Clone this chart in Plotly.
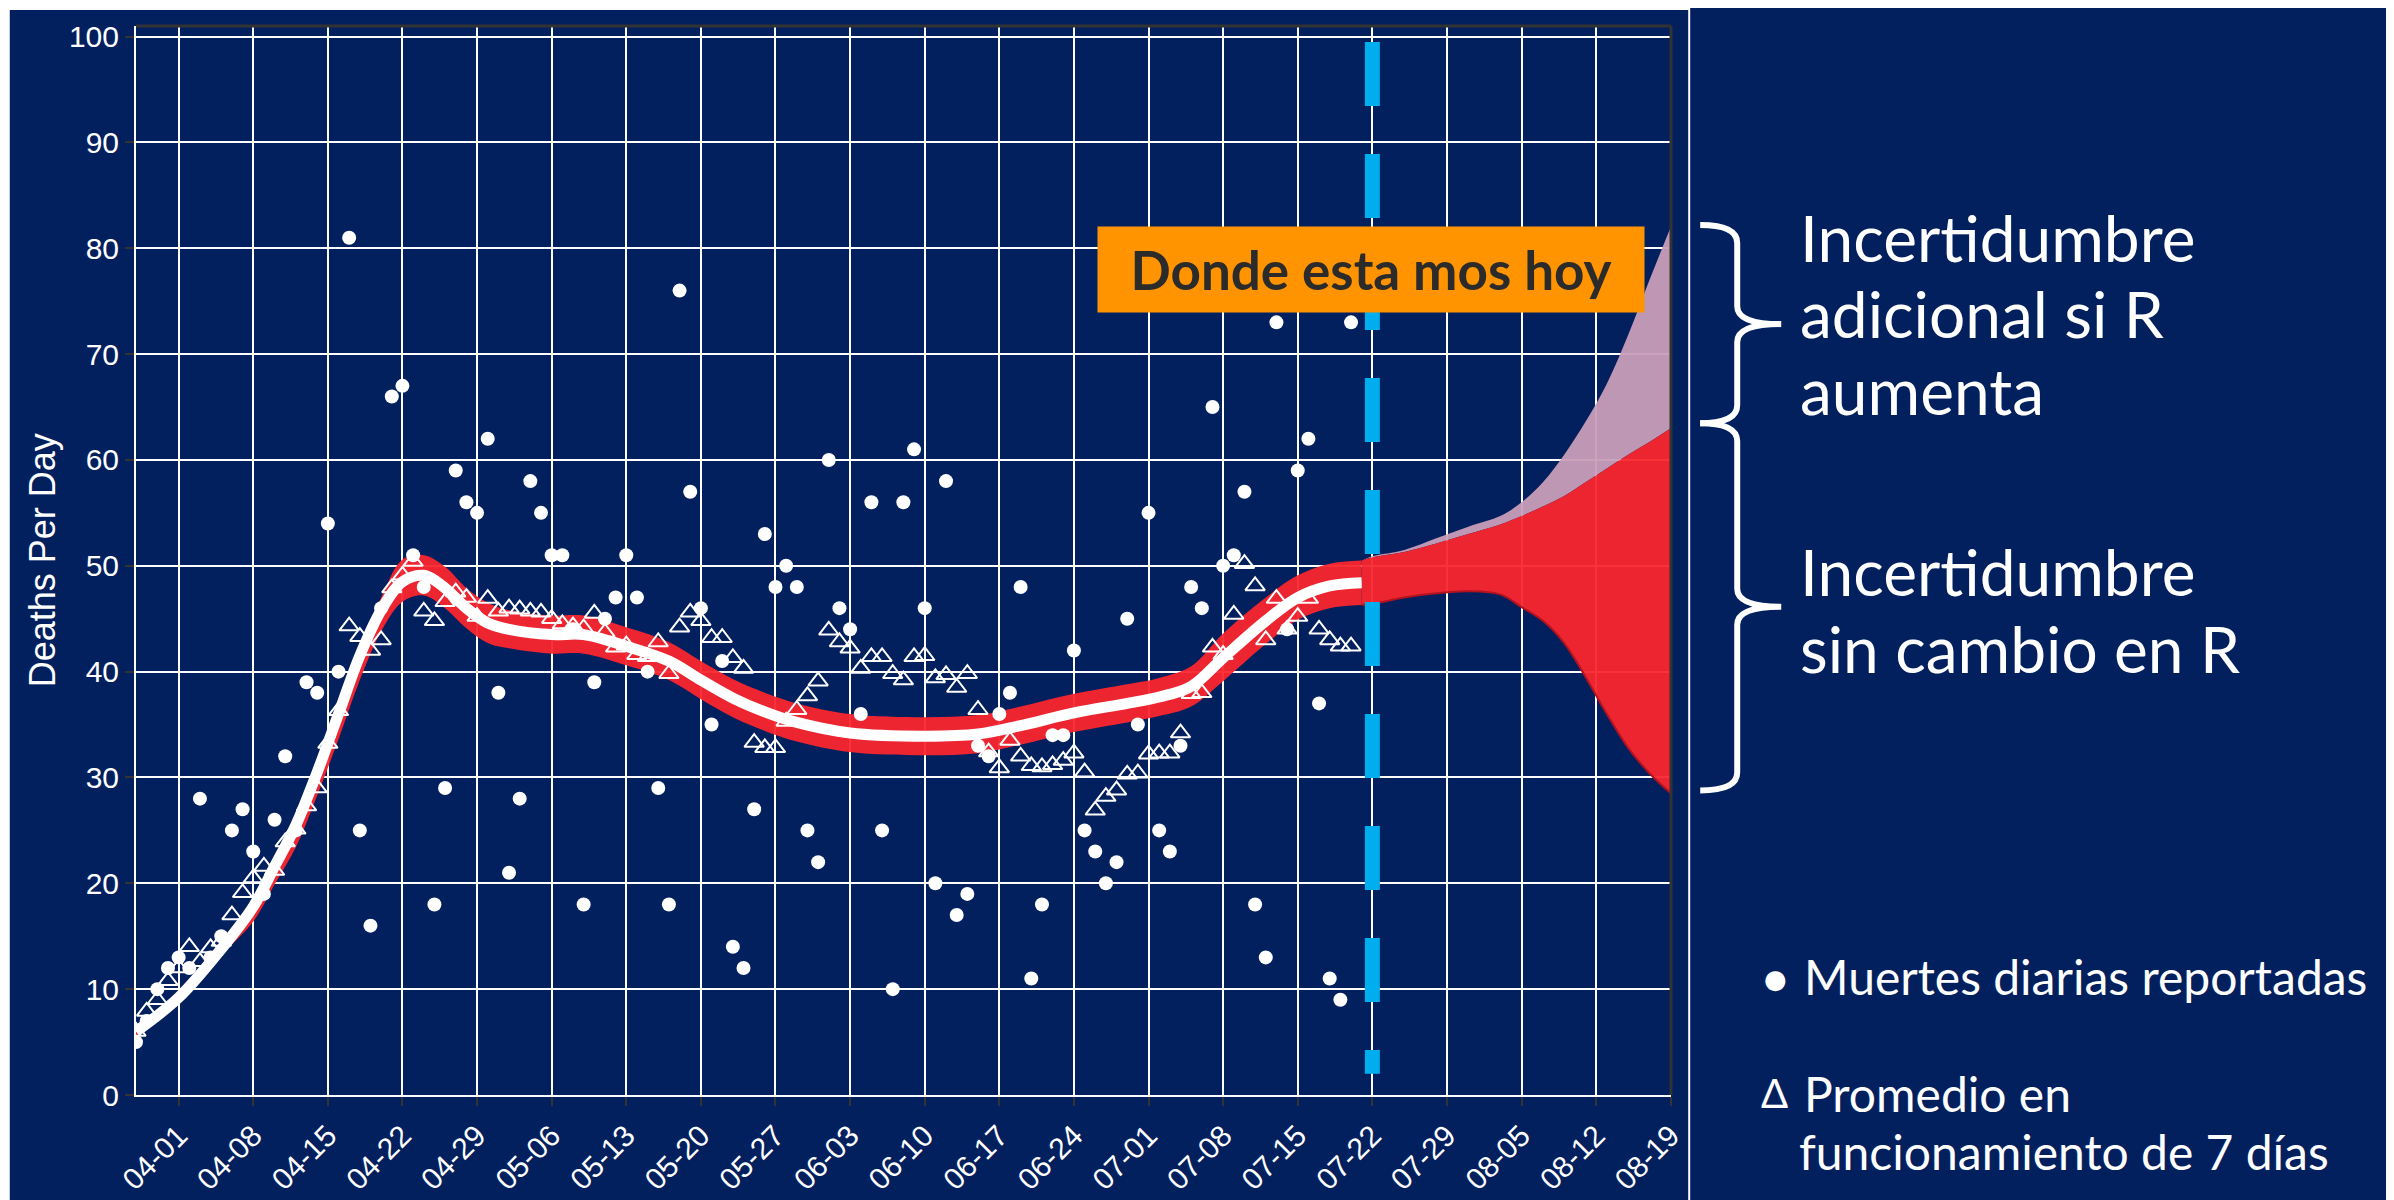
import pandas as pd
import plotly.graph_objects as go

NAVY = "#02205E"
RED = "rgba(249,38,46,0.95)"
PINK = "rgba(200,158,184,0.95)"

# daily reported deaths, one value per day from 03-28 to 07-20
obs_dates = pd.date_range("2020-03-28", "2020-07-20").strftime("%Y-%m-%d").tolist()
deaths = [5, 7, 10, 12,
          13, 12, 28, 13, 15, 25, 27, 23, 19, 26, 32, 25, 39, 38, 54, 40, 81, 25, 16, 46,
          66, 67, 51, 48, 18, 29, 59, 56, 55, 62,
          38, 21, 28, 58, 55, 51, 51, 44, 18, 39, 45, 47, 51, 47, 40, 29, 18, 76, 57, 46,
          35, 41, 14, 12, 27, 53, 48, 50, 48, 25, 22,
          60, 46, 44, 36, 56, 25, 10, 56, 61, 46, 20, 58, 17, 19, 33, 32, 36, 38, 48, 11,
          18, 34, 34, 42, 25, 23, 20, 22, 45, 35,
          55, 25, 23, 33, 48, 46, 65, 50, 51, 57, 18, 13, 73, 44, 59, 62, 37, 11, 9, 73]
# 7-day running average (triangles)
avg7 = [6.0, 7.9, 9.0, 10.8,
        12.0, 14.0, 12.6, 13.9, 14.5, 17.0, 19.1, 20.5, 21.6, 21.2, 23.9, 25.1, 27.3, 29.0,
        33.2, 36.3, 44.3, 43.3, 42.0, 43.0, 47.9, 49.1, 50.4, 45.7, 44.8, 46.6, 47.5, 47.0,
        45.2, 46.9,
        45.7, 46.0, 45.9, 45.7, 45.6, 45.0, 44.5, 44.3, 44.1, 45.5, 43.7, 42.3, 42.5, 41.6,
        41.4, 42.8, 39.8, 44.2, 45.6, 44.8, 43.2, 43.2, 41.3, 40.3, 33.3, 32.8, 32.8, 35.3,
        36.4, 37.7, 39.1,
        43.9, 42.8, 42.2, 40.3, 41.4, 41.4, 39.8, 39.2, 41.4, 41.5, 39.4, 39.7, 38.5, 39.8,
        36.4, 32.4, 30.9, 33.5, 32.0, 31.1, 31.0, 31.2, 31.6, 32.3, 30.5, 26.9, 28.2, 28.8,
        30.3, 30.4,
        32.2, 32.3, 32.3, 34.2, 37.9, 38.0, 42.3, 41.6, 45.4, 50.2, 48.1, 43.0, 46.9, 44.0,
        45.2, 46.9, 44.0, 43.0, 42.4, 42.4]

# fitted curve and its band
fit_dates = ["2020-03-28", "2020-04-01", "2020-04-05", "2020-04-08", "2020-04-10", "2020-04-12",
             "2020-04-14", "2020-04-16", "2020-04-18", "2020-04-20", "2020-04-22", "2020-04-24",
             "2020-04-26", "2020-04-28", "2020-04-30", "2020-05-02", "2020-05-06", "2020-05-09",
             "2020-05-13", "2020-05-17", "2020-05-20", "2020-05-23", "2020-05-26", "2020-05-29",
             "2020-06-03", "2020-06-10", "2020-06-15", "2020-06-19", "2020-06-24", "2020-06-29",
             "2020-07-02", "2020-07-05", "2020-07-08", "2020-07-12", "2020-07-15", "2020-07-18",
             "2020-07-21"]
fit = [6.0, 9.2, 13.8, 17.8, 21.6, 25.5, 30.5, 36.0, 41.5, 45.8, 48.5, 49.1, 47.9, 46.0, 44.6,
       44.0, 43.5, 43.5, 42.4, 41.0, 39.2, 37.5, 36.2, 35.2, 34.2, 33.9, 34.1, 34.9, 36.1, 37.0,
       37.6, 38.6, 41.3, 44.8, 47.0, 48.1, 48.4]
fit_lo = [5.6, 8.8, 13.2, 16.4, 19.9, 23.4, 28.3, 33.6, 39.2, 43.8, 46.6, 47.2, 46.0, 44.1, 42.7,
          42.2, 41.7, 41.7, 40.6, 39.2, 37.4, 35.7, 34.4, 33.4, 32.4, 32.1, 32.3, 33.1, 34.3, 35.2,
          35.8, 36.7, 39.1, 42.6, 44.9, 46.0, 46.3]
fit_hi = [6.4, 9.6, 14.3, 18.3, 22.3, 26.1, 31.1, 36.7, 42.4, 47.0, 50.6, 51.0, 49.9, 47.9, 46.5,
          45.8, 45.3, 45.3, 44.2, 42.8, 41.0, 39.3, 38.0, 37.0, 36.0, 35.7, 35.9, 36.7, 37.9, 38.8,
          39.4, 40.5, 43.6, 47.0, 49.1, 50.2, 50.5]

# projection
proj_dates = ["2020-07-21", "2020-07-22", "2020-07-25", "2020-07-28", "2020-07-31", "2020-08-03",
              "2020-08-05", "2020-08-07", "2020-08-09", "2020-08-11", "2020-08-13", "2020-08-15",
              "2020-08-17", "2020-08-19"]
proj_lo = [46.3, 46.4, 47.0, 47.4, 47.6, 47.3, 46.1, 44.8, 42.7, 39.5, 36.0, 32.8, 30.4, 28.5]
proj_hi = [50.5, 50.8, 51.3, 52.1, 53.0, 53.9, 54.7, 55.6, 56.6, 57.9, 59.2, 60.5, 61.7, 63.0]
proj_r_up = [50.5, 50.9, 51.5, 52.6, 53.7, 54.7, 56.0, 57.9, 60.5, 63.6, 67.2, 71.8, 77.0, 82.0]

today = "2020-07-22"

# pixel geometry of the plot area on the page, used to place the side texts
L, R, T, B = 136.2, 1670.8, 22.0, 1096.0


def px(x):
    return (x - L) / (R - L)


def py(y):
    return (B - y) / (B - T)


fig = go.Figure()

# band around the fit
fig.add_trace(go.Scatter(x=fit_dates, y=fit_lo, mode="lines", line=dict(width=0, shape="spline"),
                         hoverinfo="skip"))
fig.add_trace(go.Scatter(x=fit_dates, y=fit_hi, mode="lines", line=dict(width=0, shape="spline"),
                         fill="tonexty", fillcolor=RED, hoverinfo="skip"))

# extra uncertainty if R rises
fig.add_trace(go.Scatter(x=proj_dates, y=proj_hi, mode="lines", line=dict(width=0, shape="spline"),
                         hoverinfo="skip"))
fig.add_trace(go.Scatter(x=proj_dates, y=proj_r_up, mode="lines", line=dict(width=0, shape="spline"),
                         fill="tonexty", fillcolor=PINK, hoverinfo="skip"))
# uncertainty with R unchanged
fig.add_trace(go.Scatter(x=proj_dates, y=proj_lo, mode="lines",
                         line=dict(width=2, color="#B3121E", shape="spline"), hoverinfo="skip"))
fig.add_trace(go.Scatter(x=proj_dates, y=proj_hi, mode="lines", line=dict(width=0, shape="spline"),
                         fill="tonexty", fillcolor=RED, hoverinfo="skip"))

fig.add_trace(go.Scatter(x=fit_dates, y=fit, mode="lines",
                         line=dict(color="white", width=11, shape="spline")))

fig.add_trace(go.Scatter(x=obs_dates, y=avg7, mode="markers",
                         marker=dict(symbol="triangle-up-open", size=17, color="white",
                                     line=dict(width=2, color="white"))))
fig.add_trace(go.Scatter(x=obs_dates, y=deaths, mode="markers",
                         marker=dict(symbol="circle", size=14, color="white")))

axis_font = dict(family="Liberation Sans, Arial", size=30, color="white")
fig.update_xaxes(type="date", range=["2020-03-28", "2020-08-19 00:30"], tick0="2020-04-01",
                 dtick=7 * 86400000, tickformat="%m-%d", tickangle=-45, ticks="outside",
                 ticklen=9, tickwidth=2, tickcolor="#333333", showgrid=True, gridcolor="white",
                 gridwidth=2, showline=True, linecolor="white", linewidth=2, tickfont=axis_font,
                 zeroline=False)
fig.update_yaxes(range=[0, 101], tick0=0, dtick=10, ticks="outside", ticklen=9, tickwidth=2,
                 tickcolor="#333333", showgrid=True, gridcolor="white", gridwidth=2,
                 showline=True, linecolor="white", linewidth=2, tickfont=axis_font,
                 zeroline=False)

shapes = [
    dict(type="line", xref="x", yref="y", x0=today, x1=today, y0=99.5, y1=2,
         line=dict(color="#00AEEF", width=15, dash="64px,48px"), layer="above"),
    dict(type="line", xref="paper", yref="paper", x0=0, x1=1, y0=1, y1=1,
         line=dict(color="#333333", width=3), layer="above"),
    dict(type="line", xref="paper", yref="paper", x0=1, x1=1, y0=0, y1=1,
         line=dict(color="#333333", width=3), layer="above"),
    dict(type="rect", xref="paper", yref="paper", x0=px(9), x1=px(1689), y0=py(1215), y1=py(5),
         line=dict(color="white", width=2), layer="above"),
]


def brace(y_top, y_bot, x_tip=1700, x_bar=1737, x_point=1781, r=18):
    y_mid = (y_top + y_bot) / 2
    pts = [("M", [(x_tip, y_top)]),
           ("Q", [(x_bar, y_top), (x_bar, y_top + r)]),
           ("L", [(x_bar, y_mid - r)]),
           ("Q", [(x_bar, y_mid), (x_point, y_mid)]),
           ("Q", [(x_bar, y_mid), (x_bar, y_mid + r)]),
           ("L", [(x_bar, y_bot - r)]),
           ("Q", [(x_bar, y_bot), (x_tip, y_bot)])]
    path = " ".join(cmd + " " + " ".join(f"{px(a):.5f},{py(b):.5f}" for a, b in p) for cmd, p in pts)
    return dict(type="path", xref="paper", yref="paper", path=path,
                line=dict(color="white", width=6))


shapes.append(brace(222, 421))
shapes.append(brace(421, 790))
fig.update_layout(shapes=shapes)

lato = "Lato, Noto Sans, sans-serif"
side_lines = [("Incertidumbre", 234), ("adicional si R", 311), ("aumenta", 388),
              ("Incertidumbre", 570), ("sin cambio en R", 647)]
notes = [
    dict(x=px(43), y=0.5, text="Deaths Per Day", textangle=-90, xanchor="center", yanchor="middle",
         font=dict(family="Liberation Sans, Arial", size=36, color="white")),
    dict(x=px(1371), y=py(266.5), text="<b>Donde esta mos hoy</b>", xanchor="center",
         yanchor="middle", bgcolor="#FF9300", borderpad=0, width=546, height=85,
         font=dict(family=lato, size=53, color="#2B2B2B")),
    dict(x=px(1775), y=py(979), text="●", xanchor="center", yanchor="middle",
         font=dict(family="DejaVu Sans", size=26, color="white")),
    dict(x=px(1802), y=py(977), text="Muertes diarias reportadas", xanchor="left",
         yanchor="middle", font=dict(family=lato, size=48, color="white")),
    dict(x=px(1774), y=py(1094), text="Δ", xanchor="center", yanchor="middle",
         font=dict(family=lato, size=40, color="white")),
    dict(x=px(1802), y=py(1094), text="Promedio en", xanchor="left", yanchor="middle",
         font=dict(family=lato, size=48, color="white")),
    dict(x=px(1797), y=py(1153), text="funcionamiento de 7 días", xanchor="left",
         yanchor="middle", font=dict(family=lato, size=48, color="white")),
]
for txt, yy in side_lines:
    notes.append(dict(x=px(1798), y=py(yy), text=txt, xanchor="left", yanchor="middle",
                      font=dict(family=lato, size=64, color="white")))
for n in notes:
    n.update(xref="paper", yref="paper", showarrow=False)
fig.update_layout(annotations=notes)

# the page body adds an 8px offset, so the margins are shifted to compensate
fig.update_layout(width=2394, height=1200, margin=dict(l=128, r=731, t=14, b=112),
                  paper_bgcolor=NAVY, plot_bgcolor=NAVY, showlegend=False)

fig.write_html("out.html")
